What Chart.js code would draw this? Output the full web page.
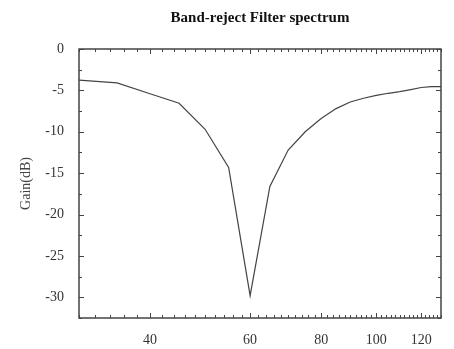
<!DOCTYPE html>
<html><head><meta charset="utf-8">
<script src="https://cdn.jsdelivr.net/npm/chart.js@4/dist/chart.umd.min.js"></script>
<style>html,body{margin:0;padding:0;background:#fff;overflow:hidden;} #wrap{width:454px;height:349px;}</style>
</head><body><div id="wrap"><canvas id="c" width="454" height="349"></canvas></div>
<script>
const frequencies = [30, 35, 40, 45, 50, 55, 60, 65, 70, 75, 80, 85, 90, 95, 100, 105, 110, 115, 120, 125, 130];
const gainDb = [-3.75, -4.1, -5.4, -6.55, -9.7, -14.3, -29.8, -16.6, -12.2, -10.0, -8.4, -7.2, -6.4, -5.95, -5.6, -5.35, -5.15, -4.9, -4.65, -4.55, -4.55];
const xTickValues = [30,32,34,36,38,40,42,44,46,48,50,52,54,56,58,60,62,64,66,68,70,72,74,76,78,80,82,84,86,88,90,92,94,96,98,100,102,104,106,108,110,112,114,116,118,120,122,124,126,128,130];
const xTickLabels = [40, 60, 80, 100, 120];
const yTickValues = [0, -2.5, -5, -7.5, -10, -12.5, -15, -17.5, -20, -22.5, -25, -27.5, -30, -32.5];
const yTickLabels = [0, -5, -10, -15, -20, -25, -30];

const frameColor = '#444';
const serif = "'Liberation Serif', 'Times New Roman', serif";

const tickPlugin = {
  id: 'frameTicks',
  afterDatasetsDraw(chart) {
    const {ctx, chartArea: a, scales} = chart;
    const xs = scales.x, ys = scales.y;
    ctx.save();
    ctx.strokeStyle = frameColor;
    ctx.lineWidth = 1;
    ctx.beginPath();
    xTickValues.forEach(v => {
      const px = Math.round(xs.getPixelForValue(v)) + 0.5;
      const len = xTickLabels.includes(v) ? 5 : 3;
      ctx.moveTo(px, a.bottom); ctx.lineTo(px, a.bottom - len);
      ctx.moveTo(px, a.top); ctx.lineTo(px, a.top + len);
    });
    yTickValues.forEach(v => {
      const py = Math.round(ys.getPixelForValue(v)) + 0.5;
      const len = yTickLabels.includes(v) ? 5 : 3;
      ctx.moveTo(a.left, py); ctx.lineTo(a.left + len, py);
      ctx.moveTo(a.right, py); ctx.lineTo(a.right - len, py);
    });
    ctx.stroke();
    ctx.lineWidth = 1.5;
    ctx.strokeRect(a.left, a.top, a.right - a.left, a.bottom - a.top);
    ctx.restore();
  }
};

new Chart(document.getElementById('c'), {
  type: 'line',
  data: {
    datasets: [{
      data: frequencies.map((f, i) => ({x: f, y: gainDb[i]})),
      borderColor: '#444',
      borderWidth: 1.2,
      pointRadius: 0,
      tension: 0,
      fill: false
    }]
  },
  options: {
    responsive: false,
    animation: false,
    devicePixelRatio: 1,
    layout: {padding: {left: 0, right: 13, top: 0, bottom: 0}},
    plugins: {
      legend: {display: false},
      tooltip: {enabled: false},
      title: {
        display: true,
        fullSize: false,
        text: 'Band-reject Filter spectrum',
        color: '#111',
        font: {family: serif, size: 15, weight: 'bold', lineHeight: 1.2},
        padding: {top: 9.5, bottom: 21.5}
      }
    },
    scales: {
      x: {
        type: 'logarithmic',
        min: 30, max: 130,
        afterBuildTicks(s) { s.ticks = xTickValues.map(v => ({value: v})); },
        afterFit(s) { s.height = 31; },
        grid: {display: false},
        border: {display: false},
        ticks: {
          autoSkip: false, maxRotation: 0, minRotation: 0,
          padding: 6,
          color: '#333',
          font: {family: serif, size: 14},
          callback: (v) => xTickLabels.includes(v) ? String(v) : ''
        }
      },
      y: {
        type: 'linear',
        min: -32.5, max: 0,
        afterBuildTicks(s) { s.ticks = yTickValues.map(v => ({value: v})); },
        afterFit(s) { s.width = 79; },
        grid: {display: false},
        border: {display: false},
        title: {
          display: true,
          text: 'Gain(dB)',
          color: '#444',
          font: {family: serif, size: 14},
          padding: {top: 18, bottom: 0}
        },
        ticks: {
          autoSkip: false,
          padding: 7,
          color: '#333',
          font: {family: serif, size: 14},
          callback: (v) => yTickLabels.includes(v) ? String(v) : ''
        }
      }
    }
  },
  plugins: [tickPlugin]
});
</script></body></html>
